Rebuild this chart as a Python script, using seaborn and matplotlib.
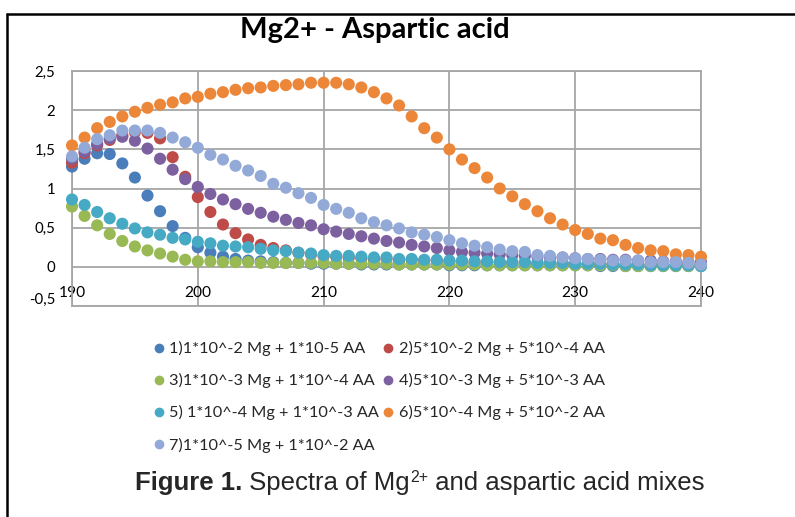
"""
Mg2+ - Aspartic acid: спектры смесей (точечный график)
"""

import pandas as pd
import numpy as np
import matplotlib
matplotlib.use("Agg")
import matplotlib.pyplot as plt
import matplotlib.transforms as mtransforms
from matplotlib.lines import Line2D
import seaborn as sns

# длины волн, нм
wavelength = list(range(190, 241))

s1 = [1.28, 1.38, 1.45, 1.44, 1.32, 1.14, 0.91, 0.71, 0.52, 0.37,
      0.25, 0.18, 0.13, 0.10, 0.08, 0.07, 0.06, 0.05, 0.05, 0.04,
      0.04, 0.04, 0.04, 0.03, 0.03, 0.03, 0.03, 0.03, 0.03, 0.03,
      0.02, 0.02, 0.02, 0.02, 0.02, 0.02, 0.02, 0.02, 0.02, 0.02,
      0.02, 0.02, 0.01, 0.01, 0.01, 0.01, 0.01, 0.01, 0.01, 0.01, 0.01]
s2 = [1.33, 1.45, 1.55, 1.62, 1.68, 1.72, 1.71, 1.64, 1.40, 1.15,
      0.89, 0.70, 0.54, 0.43, 0.35, 0.28, 0.24, 0.21, 0.18, 0.16,
      0.14, 0.13, 0.12, 0.11, 0.10, 0.10, 0.09, 0.09, 0.08, 0.08,
      0.07, 0.07, 0.06, 0.06, 0.06, 0.05, 0.05, 0.05, 0.05, 0.04,
      0.04, 0.04, 0.04, 0.04, 0.03, 0.03, 0.03, 0.03, 0.03, 0.03, 0.03]
s3 = [0.77, 0.65, 0.53, 0.42, 0.33, 0.26, 0.21, 0.17, 0.13, 0.09,
      0.07, 0.07, 0.06, 0.06, 0.06, 0.05, 0.05, 0.05, 0.05, 0.05,
      0.05, 0.04, 0.04, 0.04, 0.04, 0.04, 0.03, 0.03, 0.03, 0.03,
      0.03, 0.03, 0.03, 0.02, 0.02, 0.02, 0.02, 0.02, 0.02, 0.02,
      0.02, 0.02, 0.02, 0.02, 0.01, 0.01, 0.01, 0.01, 0.01, 0.01, 0.01]
s4 = [1.38, 1.47, 1.57, 1.64, 1.66, 1.61, 1.51, 1.38, 1.24, 1.12,
      1.02, 0.93, 0.86, 0.80, 0.74, 0.69, 0.64, 0.60, 0.56, 0.53,
      0.48, 0.45, 0.42, 0.39, 0.36, 0.33, 0.31, 0.28, 0.26, 0.24,
      0.21, 0.19, 0.18, 0.17, 0.16, 0.15, 0.14, 0.13, 0.12, 0.12,
      0.11, 0.10, 0.10, 0.09, 0.09, 0.08, 0.08, 0.07, 0.07, 0.06, 0.06]
s5 = [0.86, 0.79, 0.70, 0.62, 0.55, 0.49, 0.44, 0.41, 0.37, 0.35,
      0.32, 0.30, 0.27, 0.26, 0.25, 0.23, 0.21, 0.20, 0.18, 0.17,
      0.15, 0.14, 0.14, 0.13, 0.12, 0.12, 0.10, 0.10, 0.09, 0.09,
      0.08, 0.08, 0.07, 0.07, 0.06, 0.06, 0.06, 0.05, 0.05, 0.05,
      0.04, 0.04, 0.04, 0.03, 0.03, 0.03, 0.02, 0.02, 0.02, 0.02, 0.01]
s6 = [1.55, 1.65, 1.77, 1.85, 1.92, 1.98, 2.03, 2.07, 2.10, 2.15,
      2.17, 2.21, 2.23, 2.26, 2.28, 2.29, 2.31, 2.32, 2.33, 2.35,
      2.35, 2.35, 2.33, 2.29, 2.23, 2.15, 2.06, 1.92, 1.77, 1.65,
      1.50, 1.37, 1.26, 1.14, 1.00, 0.90, 0.80, 0.71, 0.62, 0.54,
      0.47, 0.42, 0.36, 0.34, 0.28, 0.24, 0.21, 0.20, 0.16, 0.15, 0.13]
s7 = [1.41, 1.52, 1.63, 1.68, 1.74, 1.74, 1.74, 1.71, 1.65, 1.59,
      1.52, 1.43, 1.37, 1.29, 1.23, 1.16, 1.06, 1.01, 0.94, 0.88,
      0.79, 0.74, 0.69, 0.62, 0.57, 0.53, 0.49, 0.44, 0.41, 0.38,
      0.34, 0.30, 0.27, 0.25, 0.22, 0.20, 0.19, 0.15, 0.14, 0.12,
      0.11, 0.10, 0.09, 0.08, 0.08, 0.08, 0.06, 0.06, 0.06, 0.05, 0.03]

series_names = [
    "1)1*10^-2 Mg + 1*10-5 AA",
    "2)5*10^-2 Mg + 5*10^-4 AA",
    "3)1*10^-3 Mg + 1*10^-4 AA",
    "4)5*10^-3 Mg + 5*10^-3 AA",
    "5) 1*10^-4 Mg + 1*10^-3 AA",
    "6)5*10^-4 Mg + 5*10^-2 AA",
    "7)1*10^-5 Mg + 1*10^-2 AA",
]
colors = ["#4A7EBB", "#BE4B48", "#98B954", "#7D60A0", "#46AAC5", "#EC873A", "#93AAD8"]

y_ticks = [-0.5, 0, 0.5, 1, 1.5, 2, 2.5]
y_ticklabels = ["-0,5", "0", "0,5", "1", "1,5", "2", "2,5"]
x_ticks = [190, 200, 210, 220, 230, 240]

df = pd.concat(
    [pd.DataFrame({"wl": wavelength, "abs": vals, "series": name})
     for name, vals in zip(series_names, [s1, s2, s3, s4, s5, s6, s7])],
    ignore_index=True,
)

sns.set_theme(style="white")
plt.rcParams["font.family"] = ["Lato", "DejaVu Sans"]

fig = plt.figure(figsize=(7.95, 5.17), dpi=100)
ax = fig.add_axes([72 / 795, 1 - 306 / 517, (701 - 72) / 795, (306 - 71) / 517])

sns.scatterplot(data=df, x="wl", y="abs", hue="series", hue_order=series_names,
                palette=colors, s=76, linewidth=0, alpha=1, ax=ax,
                legend=False, clip_on=False, zorder=3)

ax.set_xlim(190, 240)
ax.set_ylim(-0.5, 2.5)
ax.set_xticks(x_ticks)
ax.set_yticks(y_ticks)
ax.set_yticklabels(y_ticklabels)
ax.set_xlabel("")
ax.set_ylabel("")
ax.grid(True, color="#A6A6A6", linewidth=1.3)
ax.set_axisbelow(True)
for sp in ax.spines.values():
    sp.set_color("#A6A6A6")
    sp.set_linewidth(1.3)
ax.tick_params(axis="x", length=0, pad=13, labelsize=11.2, labelcolor="black")
ax.tick_params(axis="y", length=0, pad=12, labelsize=10.8, labelcolor="black")

# подписи X — сразу под линией y=0, как в Excel
x_shift = mtransforms.ScaledTranslation(0, 38 / 100, fig.dpi_scale_trans)
for lbl in ax.get_xticklabels():
    lbl.set_transform(lbl.get_transform() + x_shift)
y_shift = mtransforms.ScaledTranslation(0, 8 / 100, fig.dpi_scale_trans)
low = ax.get_yticklabels()[0]
low.set_transform(low.get_transform() + y_shift)

fig.text(375 / 795, 1 - 30 / 517, "Mg2+ - Aspartic acid", ha="center", va="center",
         fontsize=21, fontweight="bold", color="black")

# легенда: порядок по строкам
order = [0, 2, 4, 6, 1, 3, 5]
handles = [Line2D([], [], marker="o", linestyle="", markersize=7,
                  markerfacecolor=colors[i], markeredgewidth=0) for i in order]
labels = [series_names[i] for i in order]
fig.legend(handles, labels, loc="upper left", bbox_to_anchor=(145 / 795, 1 - 333 / 517),
           ncol=2, frameon=False, fontsize=11.7, borderpad=0, handlelength=0.7,
           handletextpad=0.3, labelspacing=1.05, columnspacing=0.2)

# подпись рисунка: жирная часть + обычная + верхний индекс
renderer = fig.canvas.get_renderer()
cap_y = 1 - 490 / 517
cap_size = 18.5
x0 = 135 / 795
t1 = fig.text(x0, cap_y, "Figure 1.", ha="left", va="baseline", fontsize=cap_size,
              fontweight="bold", family="Liberation Sans")
w1 = t1.get_window_extent(renderer).width / fig.bbox.width
t2 = fig.text(x0 + w1, cap_y, " Spectra of Mg", ha="left", va="baseline",
              fontsize=cap_size, family="Liberation Sans")
w2 = t2.get_window_extent(renderer).width / fig.bbox.width
t3 = fig.text(x0 + w1 + w2, cap_y + 8 / 517, "2+", ha="left", va="baseline",
              fontsize=cap_size * 0.62, family="Liberation Sans")
w3 = t3.get_window_extent(renderer).width / fig.bbox.width
fig.text(x0 + w1 + w2 + w3, cap_y, " and aspartic acid mixes", ha="left", va="baseline",
         fontsize=cap_size, family="Liberation Sans")

# рамка документа
fig.add_artist(Line2D([7 / 795, 1], [1 - 14 / 517, 1 - 14 / 517], color="black", linewidth=1.8))
fig.add_artist(Line2D([7 / 795, 7 / 795], [0, 1 - 14 / 517], color="black", linewidth=1.8))

fig.savefig("out.png", dpi=100)
